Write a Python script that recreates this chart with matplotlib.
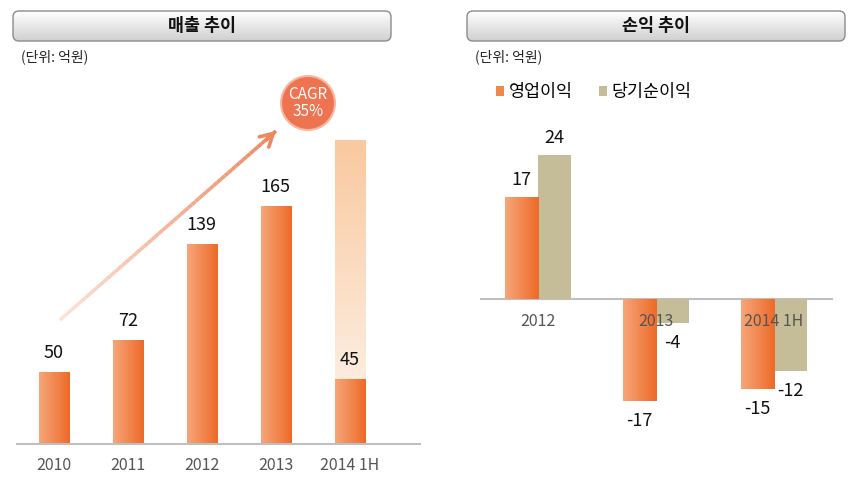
import numpy as np
import matplotlib
matplotlib.use("Agg")
import matplotlib.pyplot as plt
from matplotlib.patches import FancyBboxPatch, Circle, Patch
from matplotlib.collections import LineCollection
from matplotlib.colors import LinearSegmentedColormap

plt.rcParams['font.family'] = ['Noto Sans CJK KR', 'DejaVu Sans']

# ---------------- data ----------------
rev_years = ["2010", "2011", "2012", "2013", "2014 1H"]
rev_values = [50, 72, 139, 165, 45]
rev_annualized_2014 = 211          # light background bar behind 2014 1H
cagr_text = "CAGR\n35%"

pl_years = ["2012", "2013", "2014 1H"]
op_profit = [17, -17, -15]
net_profit = [24, -4, -12]
series_names = ["영업이익", "당기순이익"]

left_title = "매출 추이"
right_title = "손익 추이"
unit_text = "(단위: 억원)"

# ---------------- figure ----------------
W, H = 859, 487
fig = plt.figure(figsize=(W / 100, H / 100), dpi=100)
fig.patch.set_facecolor("white")

def fig_rect(x0, y0, x1, y1):
    """pixel box (top-left origin) -> figure fraction rect"""
    return [x0 / W, 1 - y1 / H, (x1 - x0) / W, (y1 - y0) / H]

orange_cmap = LinearSegmentedColormap.from_list("o", ["#F6A679", "#EE6A28"])
light_cmap = LinearSegmentedColormap.from_list("l", ["#FDF6EF", "#F9C9A0"])
grad_h = np.linspace(0, 1, 64).reshape(1, -1)
grad_v = np.linspace(0, 1, 64).reshape(-1, 1)

def gradient_fill(ax, bar, cmap, grad):
    x, y = bar.get_x(), bar.get_y()
    w, h = bar.get_width(), bar.get_height()
    im = ax.imshow(grad, cmap=cmap, extent=(x, x + w, y, y + h),
                   origin="lower", aspect="auto", zorder=bar.get_zorder() + 0.1,
                   interpolation="bicubic")
    im.set_clip_path(bar)

VAL_FS = 13
CAT_FS = 11.5

# ---------------- left chart: revenue ----------------
axL = fig.add_axes(fig_rect(17, 80, 420, 444))
xL = np.arange(len(rev_years))
bw = 0.41
bg = axL.bar(xL[-1], rev_annualized_2014, bw, color="#FBD9BC", zorder=1)
for b in bg:
    gradient_fill(axL, b, light_cmap, grad_v)
bars = axL.bar(xL, rev_values, bw, color="#F08848", zorder=2)
for b in bars:
    gradient_fill(axL, b, orange_cmap, grad_h)
for xi, v in zip(xL, rev_values):
    axL.text(xi, v + 7, str(v), ha="center", va="bottom", fontsize=VAL_FS, color="#111111", zorder=5)
axL.set_xlim(-0.5, 4.95)
axL.set_ylim(0, 252.8)
axL.set_xticks(xL)
axL.set_xticklabels(rev_years, fontsize=CAT_FS, color="#555555")
axL.tick_params(axis="x", length=0, pad=9)
axL.set_yticks([])
for s in ["top", "right", "left"]:
    axL.spines[s].set_visible(False)
axL.spines["bottom"].set_color("#BFBFBF")
axL.spines["bottom"].set_linewidth(1.5)
axL.patch.set_alpha(0)

# ---------------- right chart: profit ----------------
axR = fig.add_axes(fig_rect(480, 110, 833, 440))
xR = np.arange(len(pl_years))
bw2 = 0.28
b1 = axR.bar(xR - bw2 / 2, op_profit, bw2, color="#F08848", zorder=2)
b2 = axR.bar(xR + bw2 / 2, net_profit, bw2, color="#C4BD97", zorder=2)
for b in b1:
    gradient_fill(axR, b, orange_cmap, grad_h)
for offs, series in [(-bw2 / 2, op_profit), (bw2 / 2, net_profit)]:
    for xi, v in zip(xR, series):
        if v >= 0:
            axR.text(xi + offs, v + 1.4, str(v), ha="center", va="bottom",
                     fontsize=VAL_FS, color="#111111", zorder=5)
        else:
            axR.text(xi + offs, v - 3.3, str(v), ha="center", va="center",
                     fontsize=VAL_FS, color="#111111", zorder=5)
axR.axhline(0, color="#BFBFBF", lw=1.5, zorder=1)
axR.set_xlim(-0.49, 2.5)
axR.set_ylim(-23.5, 31.5)
axR.set_xticks([])
axR.set_yticks([])
for xi, lab in zip(xR, pl_years):
    axR.text(xi, -3.8, lab, ha="center", va="center", fontsize=CAT_FS, color="#555555", zorder=6)
for s in ["top", "right", "left", "bottom"]:
    axR.spines[s].set_visible(False)
axR.patch.set_alpha(0)
handles = [Patch(facecolor="#F08848", edgecolor="none"),
           Patch(facecolor="#C4BD97", edgecolor="none")]
axR.legend(handles, series_names, loc="upper left", bbox_to_anchor=(0.0, 1.13),
           ncol=2, frameon=False, fontsize=12.5, handlelength=0.5, handleheight=0.5,
           handletextpad=0.25, columnspacing=1.5)

# ---------------- overlay decorations (pixel coords) ----------------
ov = fig.add_axes([0, 0, 1, 1], zorder=-1)
ov.set_xlim(0, W)
ov.set_ylim(H, 0)
ov.axis("off")
ov.patch.set_alpha(0)

grey_cmap = LinearSegmentedColormap.from_list("g", ["#FFFFFF", "#D0D0D0"])
for (x0, x1), title in [((13, 391), left_title), ((467, 845), right_title)]:
    box = FancyBboxPatch((x0, 11), x1 - x0, 30, boxstyle="round,pad=0,rounding_size=6",
                         facecolor="none", edgecolor="#8C8C8C", lw=1.0, zorder=3)
    ov.add_patch(box)
    im = ov.imshow(grad_v, cmap=grey_cmap, extent=(x0, x1, 41, 11), origin="upper",
                   aspect="auto", zorder=2)
    im.set_clip_path(box)
    ov.text((x0 + x1) / 2, 26, title, ha="center", va="center", fontsize=12.5,
            fontweight="bold", color="#111111", zorder=4)
    ov.text(x0 + 8, 57, unit_text, ha="left", va="center", fontsize=10, color="#222222")
ov.set_xlim(0, W)
ov.set_ylim(H, 0)

# CAGR arrow with gradient
ov2 = fig.add_axes([0, 0, 1, 1], zorder=5)
ov2.set_xlim(0, W)
ov2.set_ylim(H, 0)
ov2.axis("off")
ov2.patch.set_alpha(0)
p0 = np.array([60, 320]); p1 = np.array([276, 131])
t = np.linspace(0, 1, 60)
pts = p0 + (p1 - p0) * t[:, None]
segs = np.stack([pts[:-1], pts[1:]], axis=1)
arrow_cmap = LinearSegmentedColormap.from_list("a", ["#FBE3D6", "#EE8660"])
lc = LineCollection(segs, cmap=arrow_cmap, linewidths=2.6, capstyle="butt")
lc.set_array(t[:-1])
ov2.add_collection(lc)
ov2.annotate("", xy=(p1[0] + 2, p1[1] - 2), xytext=(p1[0] - 12, p1[1] + 11),
             arrowprops=dict(arrowstyle="->,head_length=0.9,head_width=0.5",
                             color="#EE8660", lw=2.6))
ov2.add_patch(Circle((308, 103), 27, facecolor="#EE7350", edgecolor="#F6B89E", lw=1.5))
ov2.text(308, 103, cagr_text, ha="center", va="center", fontsize=11,
         color="white", linespacing=1.05)

fig.savefig("out.png", dpi=100, facecolor="white")
